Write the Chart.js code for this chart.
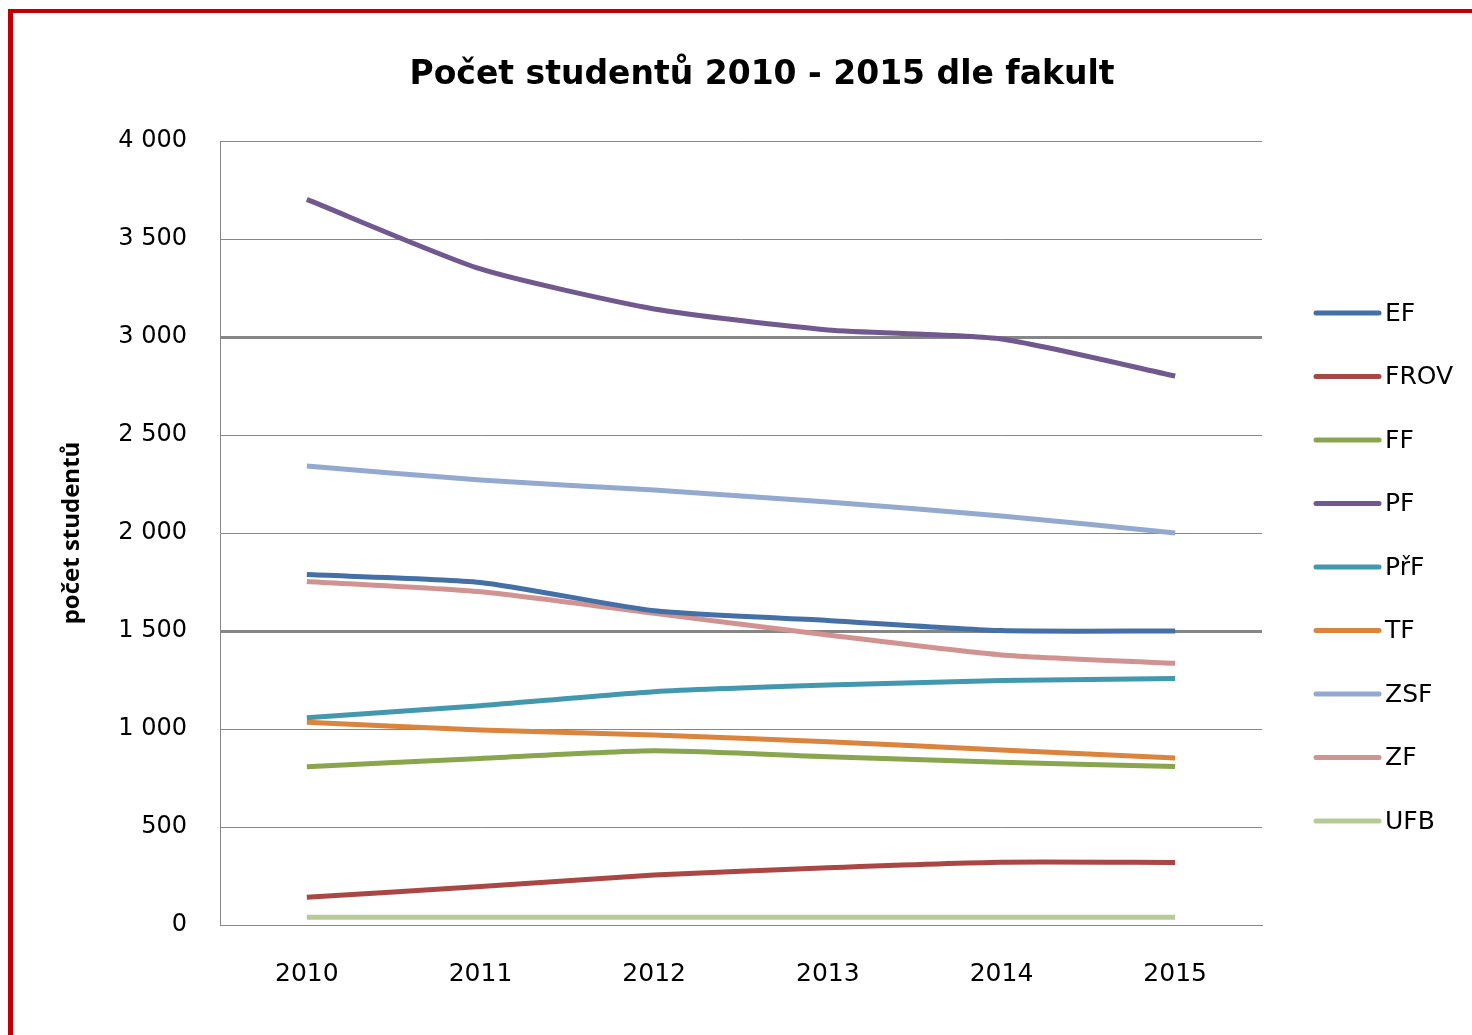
<!DOCTYPE html>
<html>
<head>
<meta charset="utf-8">
<script src="https://cdn.jsdelivr.net/npm/chart.js@4.4.1/dist/chart.umd.min.js"></script>
<style>
  body { margin: 0; background: #fff; overflow: hidden; }
  #frame { position: absolute; left: 8px; top: 9px; width: 1600px; height: 1200px;
           border-left: 5px solid #c00000; border-top: 4px solid #c00000; }
  #chart { position: absolute; left: 0; top: 0; }
</style>
</head>
<body>
<div id="frame"></div>
<canvas id="chart" width="1472" height="1035"></canvas>
<script>
const years = ['2010', '2011', '2012', '2013', '2014', '2015']
const faculties = ['EF', 'FROV', 'FF', 'PF', 'PřF', 'TF', 'ZSF', 'ZF', 'UFB']
const EF = [1788, 1748, 1603, 1554, 1502, 1500]
const FROV = [141, 196, 255, 292, 320, 319]
const FF = [808, 850, 889, 859, 830, 809]
const PF = [3702, 3347, 3143, 3036, 2990, 2801]
const PrF = [1058, 1119, 1190, 1224, 1247, 1258]
const TF = [1034, 995, 969, 935, 893, 852]
const ZSF = [2342, 2270, 2219, 2158, 2087, 2000]
const ZF = [1753, 1700, 1590, 1480, 1378, 1335]
const UFB = [39, 39, 39, 39, 39, 39]
const yTicks = [0, 500, 1000, 1500, 2000, 2500, 3000, 3500, 4000]

const series = [EF, FROV, FF, PF, PrF, TF, ZSF, ZF, UFB]
const colors = ['#4470a6', '#aa4643', '#89a54e', '#71588f', '#4198af', '#db843d', '#93a9cf', '#d19392', '#b5cc96']

const gridColor = '#868686'

// title and legend drawn by hand so they sit where the original has them
const decor = {
  id: 'decor',
  afterDraw(chart) {
    const ctx = chart.ctx
    ctx.save()
    ctx.fillStyle = '#000'
    ctx.font = 'bold 33px "DejaVu Sans"'
    ctx.textAlign = 'center'
    ctx.textBaseline = 'middle'
    ctx.fillText('Počet studentů 2010 - 2015 dle fakult', 762, 75)

    ctx.font = '25px "DejaVu Sans"'
    ctx.textAlign = 'left'
    chart.data.datasets.forEach((ds, i) => {
      const y = 313 + i * 63.5
      ctx.strokeStyle = ds.borderColor
      ctx.lineWidth = 5
      ctx.lineCap = 'round'
      ctx.beginPath()
      ctx.moveTo(1316, y)
      ctx.lineTo(1379, y)
      ctx.stroke()
      ctx.fillText(ds.label, 1385, y + 1)
    })
    ctx.restore()
  }
}

const myChart = new Chart(document.getElementById('chart'), {
  type: 'line',
  data: {
    labels: years,
    datasets: faculties.map((f, i) => ({
      label: f,
      data: series[i],
      borderColor: colors[i],
      backgroundColor: colors[i],
      borderWidth: 5,
      pointRadius: 0,
      tension: 0.2,
      fill: false
    }))
  },
  options: {
    animation: false,
    responsive: false,
    devicePixelRatio: 1,
    layout: { padding: { top: 141, right: 210, bottom: 0, left: 0 } },
    plugins: { legend: { display: false }, title: { display: false }, tooltip: { enabled: false } },
    scales: {
      x: {
        offset: true,
        grid: { display: false, drawTicks: false },
        border: { display: true, color: gridColor, width: 1 },
        ticks: { color: '#000', font: { family: 'DejaVu Sans', size: 25 }, padding: 34, maxRotation: 0 },
        afterFit(scale) { scale.height = 110 }
      },
      y: {
        min: 0,
        max: 4000,
        afterBuildTicks(scale) { scale.ticks = yTicks.map(v => ({ value: v })) },
        grid: {
          color: gridColor,
          drawTicks: false,
          lineWidth: (ctx) => (ctx.tick && (ctx.tick.value === 3000 || ctx.tick.value === 1500)) ? 3 : 1
        },
        border: { display: true, color: gridColor, width: 1 },
        ticks: {
          color: '#000',
          font: { family: 'DejaVu Sans', size: 24 },
          padding: 33,
          callback: (v) => v >= 1000 ? Math.floor(v / 1000) + ' ' + String(v % 1000).padStart(3, '0') : String(v)
        },
        title: {
          display: true,
          text: 'počet studentů',
          color: '#000',
          font: { family: 'Open Sans', size: 24, weight: 'bold' },
          padding: { top: 58, bottom: 0 }
        },
        afterFit(scale) { scale.width = 220 }
      }
    }
  },
  plugins: [decor]
})
</script>
</body>
</html>
